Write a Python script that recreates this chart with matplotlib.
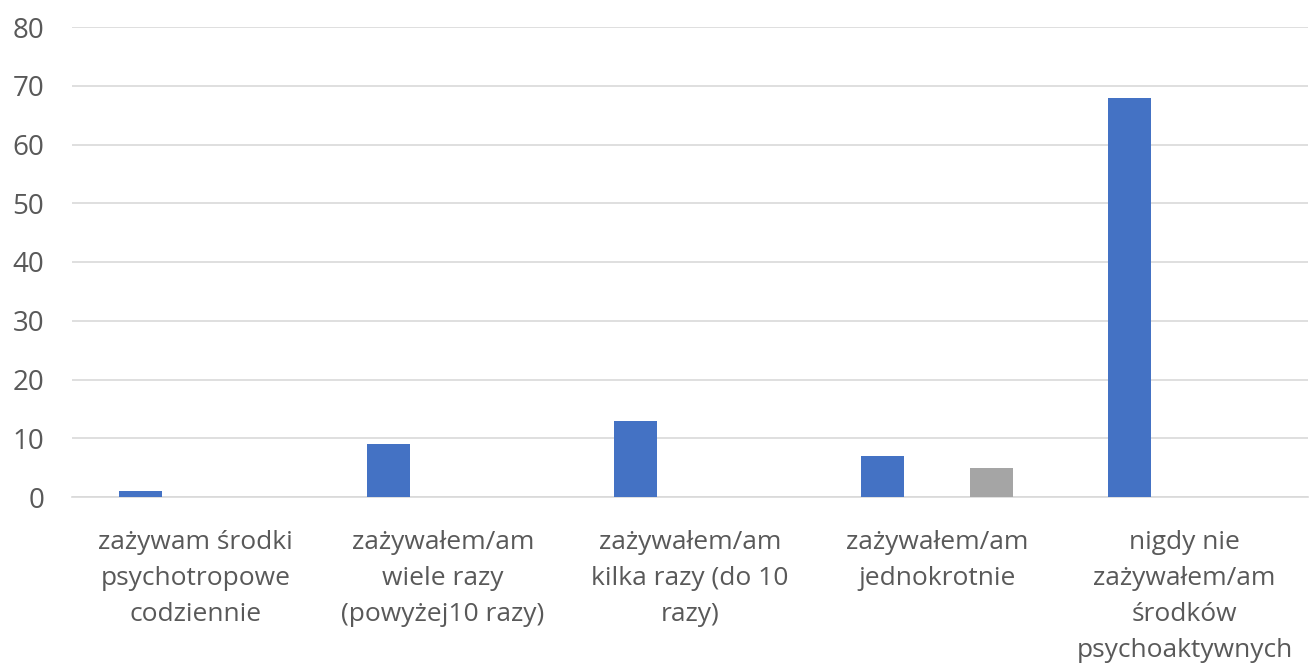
import numpy as np
import matplotlib.pyplot as plt

plt.rcParams['font.family'] = ['Open Sans', 'DejaVu Sans']

categories = ['zażywam środki\npsychotropowe\ncodziennie',
              'zażywałem/am\nwiele razy\n(powyżej10 razy)',
              'zażywałem/am\nkilka razy (do 10\nrazy)',
              'zażywałem/am\njednokrotnie',
              'nigdy nie\nzażywałem/am\nśrodków\npsychoaktywnych']
series_blue = [1, 9, 13, 7, 68]
series_orange = [0, 0, 0, 0, 0]
series_gray = [0, 0, 0, 5, 0]

fig = plt.figure(figsize=(13.11, 6.71), dpi=100)
ax = fig.add_axes([72 / 1311, 174 / 671, 1236 / 1311, 470 / 671])

x = np.arange(len(categories))
w = 0.174
off = 0.221
ax.bar(x - off, series_blue, w, color='#4472C4', zorder=3)
ax.bar(x, series_orange, w, color='#ED7D31', zorder=3)
ax.bar(x + off, series_gray, w, color='#A5A5A5', zorder=3)

ax.set_xlim(-0.5, len(categories) - 0.5)
ax.set_ylim(0, 80)
ax.set_yticks(range(0, 81, 10))
ax.grid(axis='y', color='#D9D9D9', linewidth=1.2, zorder=0)
for s in ['top', 'right', 'left']:
    ax.spines[s].set_visible(False)
ax.spines['bottom'].set_color('#D9D9D9')
ax.spines['bottom'].set_linewidth(1.2)

ax.set_xticks(x)
ax.set_xticklabels(categories, linespacing=1.57)
ax.tick_params(axis='both', length=0, labelsize=19, colors='#595959')
ax.tick_params(axis='x', pad=24)
ax.tick_params(axis='y', pad=20)
for lbl in ax.get_yticklabels():
    lbl.set_fontsize(20)

fig.savefig('out.png', dpi=100)
